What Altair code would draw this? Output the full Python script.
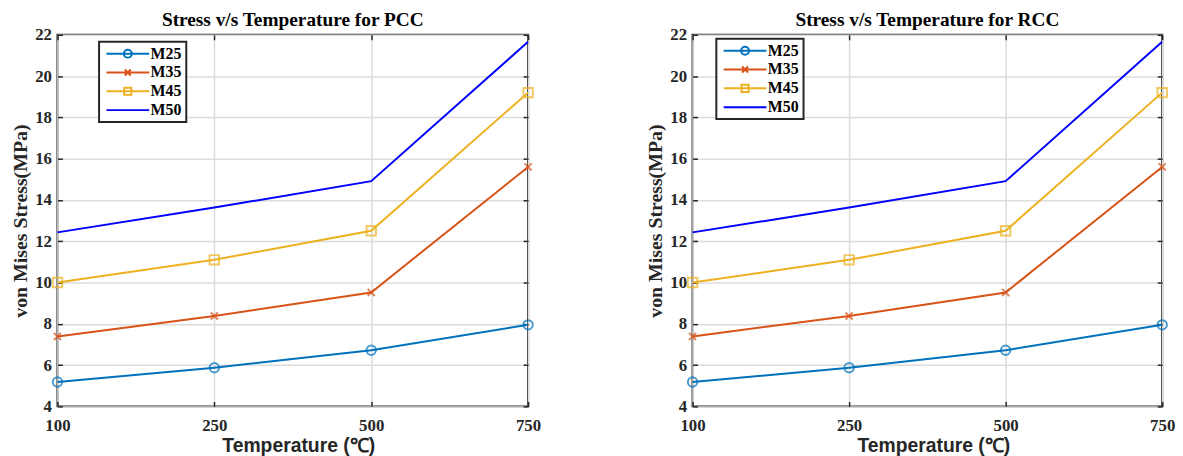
import altair as alt
import pandas as pd

# ---- data ----
temps = ["100", "250", "500", "750"]
series_names = ["M25", "M35", "M45", "M50"]
m25 = [5.18, 5.87, 6.72, 7.95]
m35 = [7.39, 8.38, 9.52, 15.6]
m45 = [10.0, 11.1, 12.51, 19.2]
m50 = [12.43, 13.63, 14.91, 21.66]
y_ticks = [4, 6, 8, 10, 12, 14, 16, 18, 20, 22]
panel_titles = ["Stress v/s Temperature for PCC", "Stress v/s Temperature for RCC"]

# ---- styles ----
colors = ["#0072BD", "#D95319", "#EDB120", "#0000FF"]
AX = "#262626"
SERIF = "Liberation Serif"
SANS = "Liberation Sans"

rows = []
for name, vals in zip(series_names, [m25, m35, m45, m50]):
    for t, v in zip(temps, vals):
        rows.append({"temp": t, "stress": v, "series": name})
df = pd.DataFrame(rows)

cross = "M-0.75,-0.75L0.75,0.75M-0.75,0.75L0.75,-0.75"
marker_expr = ("datum.series === 'M25' ? 'circle' : datum.series === 'M35' ? '" + cross +
               "' : 'square'")
L = 5.4
legend_paths = [
    f"M-{L},0H{L}M-1,0A1,1 0 1,0 1,0A1,1 0 1,0 -1,0",
    f"M-{L},0H{L}M-0.75,-0.75L0.75,0.75M-0.75,0.75L0.75,-0.75",
    f"M-{L},0H{L}M-0.9,-0.9H0.9V0.9H-0.9Z",
    f"M-{L},0H{L}",
]


def panel(title, legend_x, legend_y, width):
    base = alt.Chart(df)
    xs = alt.Scale(type="point", domain=temps, padding=0)
    ys = alt.Scale(domain=[4, 22], nice=False, zero=False)
    cs = alt.Scale(domain=series_names, range=colors)

    leg_common = dict(
        orient="none", legendX=legend_x, legendY=legend_y, title=None,
        labelFont=SERIF, labelFontWeight="bold", labelFontSize=16, labelColor="black",
        symbolSize=64, symbolStrokeWidth=2, symbolOffset=17, labelOffset=15,
        symbolOpacity=1, padding=4, rowPadding=3, strokeColor=AX, fillColor="white",
        symbolFillColor="white",
    )
    # invisible first layer: carries the legend and the inward ticks on left/bottom
    leg = base.mark_point(filled=False, strokeWidth=2, opacity=0).encode(
        x=alt.X("temp:O", scale=xs, sort=temps,
                axis=alt.Axis(orient="bottom", labels=False, title=None, grid=False,
                              offset=-5, tickSize=5, minExtent=0, maxExtent=0)),
        y=alt.Y("stress:Q", scale=ys,
                axis=alt.Axis(orient="left", values=y_ticks, labels=False, title=None,
                              grid=False, offset=-5, tickSize=5, minExtent=0, maxExtent=0)),
        color=alt.Color("series:N", scale=cs, legend=alt.Legend(**leg_common)),
        shape=alt.Shape("series:N", scale=alt.Scale(domain=series_names, range=legend_paths),
                        legend=alt.Legend(**leg_common)),
    )

    # main lines: labelled left/bottom axes with grid
    lines = base.mark_line(strokeWidth=2).encode(
        x=alt.X("temp:O", scale=xs, sort=temps,
                axis=alt.Axis(orient="bottom", title="Temperature (℃)", grid=True,
                              ticks=False, labelPadding=11, labelAngle=0,
                              titleFont=SANS, titleFontSize=19.5, titleFontWeight="bold",
                              titleColor=AX, titlePadding=4, titleX=243)),
        y=alt.Y("stress:Q", scale=ys,
                axis=alt.Axis(orient="left", values=y_ticks, title="von Mises Stress(MPa)",
                              grid=True, ticks=False, labelPadding=6,
                              titleFont=SERIF, titleFontSize=20, titleFontWeight="bold",
                              titleColor=AX, titlePadding=4)),
        color=alt.Color("series:N", scale=cs, legend=None),
    )

    # markers: inward ticks on top/right
    points = base.transform_filter("datum.series !== 'M50'").transform_calculate(
        mk=marker_expr
    ).mark_point(filled=False, size=90, strokeWidth=2).encode(
        x=alt.X("temp:O", scale=xs, sort=temps,
                axis=alt.Axis(orient="top", labels=False, title=None, grid=False,
                              offset=-5, tickSize=5, minExtent=0, maxExtent=0)),
        y=alt.Y("stress:Q", scale=ys,
                axis=alt.Axis(orient="right", values=y_ticks, labels=False, title=None,
                              grid=False, offset=-5, tickSize=5, minExtent=0, maxExtent=0)),
        color=alt.Color("series:N", scale=cs, legend=None),
        shape=alt.Shape("mk:N", scale=None),
    )

    return alt.layer(leg, lines, points).resolve_axis(
        x="independent", y="independent"
    ).properties(
        width=width, height=375,
        title=alt.TitleParams(title, font=SERIF, fontSize=19.5, fontWeight="bold",
                              color="black", offset=-5, anchor="middle"),
    )


left = panel(panel_titles[0], 42, 7, 475)
right = panel(panel_titles[1], 24, 4, 474)

chart = alt.hconcat(left, right, spacing=102).resolve_scale(
    color="independent", shape="independent"
).resolve_legend(
    color="independent", shape="independent"
).properties(
    padding={"left": 10, "top": 7, "right": 5, "bottom": 5},
    background="white",
).configure_view(
    stroke=AX, strokeWidth=2
).configure_axis(
    domain=False, gridColor="#dcdcdc", gridWidth=1.5, tickColor=AX, tickWidth=1.5,
    labelFont=SERIF, labelFontSize=17, labelFontWeight="bold", labelColor=AX,
).configure_legend(
    strokeWidth=2
)

chart.save("out.html", embed_options={"renderer": "svg", "actions": False})
